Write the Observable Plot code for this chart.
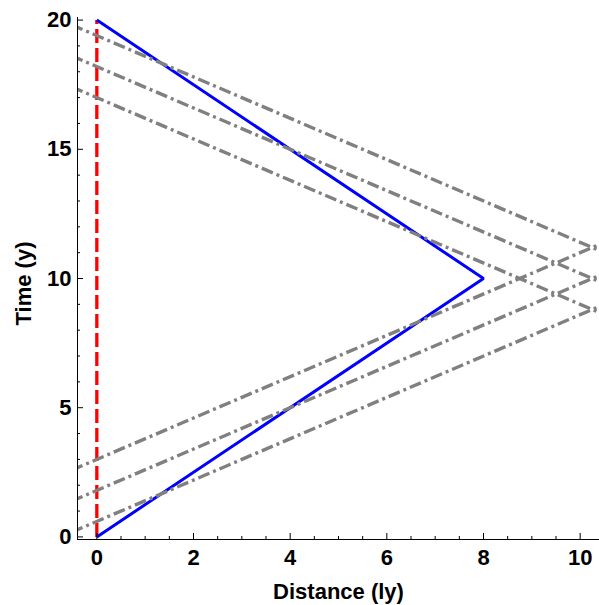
<!DOCTYPE html>
<html><head><meta charset="utf-8">
<script src="https://cdn.jsdelivr.net/npm/d3@7"></script>
<script src="https://cdn.jsdelivr.net/npm/@observablehq/plot@0.6"></script>
<style>
html,body{margin:0;padding:0;background:#fff;}
</style></head><body><div id="chart"></div>
<script>
// Traveling twin's worldline (distance in ly, time in y)
const travelerX = [0, 8, 0];
const travelerT = [0, 10, 20];
// Stay-at-home twin's worldline
const homeX = [0, 0];
const homeT = [0, 20];
// Traveler's lines of simultaneity: t = intercept + slope * x
const outboundSlope = 0.8;
const outboundIntercepts = [0.6, 1.8, 3.0];
const inboundSlope = -0.8;
const inboundIntercepts = [17.0, 18.2, 19.4];
// Axes
const xDomain = [-0.4, 10.4];
const yDomain = [-0.1, 20.1];
const xMajorTicks = [0, 2, 4, 6, 8, 10];
const xMinorTicks = [0.5, 1, 1.5, 2.5, 3, 3.5, 4.5, 5, 5.5, 6.5, 7, 7.5, 8.5, 9, 9.5, 10.5];
const yMajorTicks = [0, 5, 10, 15, 20];
const yMinorTicks = [1, 2, 3, 4, 6, 7, 8, 9, 11, 12, 13, 14, 16, 17, 18, 19];
const xLabel = "Distance (ly)";
const yLabel = "Time (y)";

const traveler = travelerX.map((x, i) => ({x, t: travelerT[i]}));
const home = homeX.map((x, i) => ({x, t: homeT[i]}));
const xa = xDomain[0] - 1, xb = xDomain[1] + 1;
const simLines = [
  ...outboundIntercepts.map(c => ({x1: xa, y1: c + outboundSlope * xa, x2: xb, y2: c + outboundSlope * xb})),
  ...inboundIntercepts.map(c => ({x1: xa, y1: c + inboundSlope * xa, x2: xb, y2: c + inboundSlope * xb}))
];

const font = "'Liberation Sans', Arial, Helvetica, sans-serif";
const chart = Plot.plot({
  width: 599,
  height: 605,
  marginLeft: 77,
  marginRight: 0,
  marginTop: 17,
  marginBottom: 66,
  x: {domain: xDomain},
  y: {domain: yDomain},
  style: {fontFamily: font, background: "white", color: "black"},
  marks: [
    Plot.line(home, {x: "x", y: "t", stroke: "#ff0000", strokeWidth: 3.3, strokeDasharray: "14,5", strokeLinecap: "butt"}),
    Plot.line(traveler, {x: "x", y: "t", stroke: "#0000ff", strokeWidth: 3, strokeLinejoin: "miter", strokeLinecap: "butt"}),
    Plot.link(simLines, {x1: "x1", y1: "y1", x2: "x2", y2: "y2", stroke: "#808080", strokeWidth: 3.4, strokeDasharray: "12,4,3,4", clip: true}),
    Plot.frame({anchor: "bottom", stroke: "black"}),
    Plot.frame({anchor: "left", stroke: "black"}),
    Plot.axisX({ticks: xMinorTicks, tickSize: -3, tickFormat: () => "", label: null}),
    Plot.axisX({ticks: xMajorTicks, tickSize: -6, tickFormat: () => "", label: null}),
    Plot.axisX({ticks: xMajorTicks, tickSize: 0, tickPadding: 10, fontSize: 22, fontWeight: "bold", label: null}),
    Plot.axisY({ticks: yMinorTicks, tickSize: -3, tickFormat: () => "", label: null}),
    Plot.axisY({ticks: yMajorTicks, tickSize: -6, tickFormat: () => "", label: null}),
    Plot.axisY({ticks: yMajorTicks, tickSize: 0, tickPadding: 6, fontSize: 22, fontWeight: "bold", label: null}),
    Plot.text([xLabel], {text: d => d, frameAnchor: "bottom", dy: 52, fontSize: 22, fontWeight: "bold", lineAnchor: "middle", fill: "black"}),
    Plot.text([yLabel], {text: d => d, frameAnchor: "left", textAnchor: "middle", dx: -54, dy: 5, rotate: -90, fontSize: 22, fontWeight: "bold", lineAnchor: "middle", fill: "black"})
  ]
});
document.getElementById("chart").appendChild(chart);
</script>
</body></html>
